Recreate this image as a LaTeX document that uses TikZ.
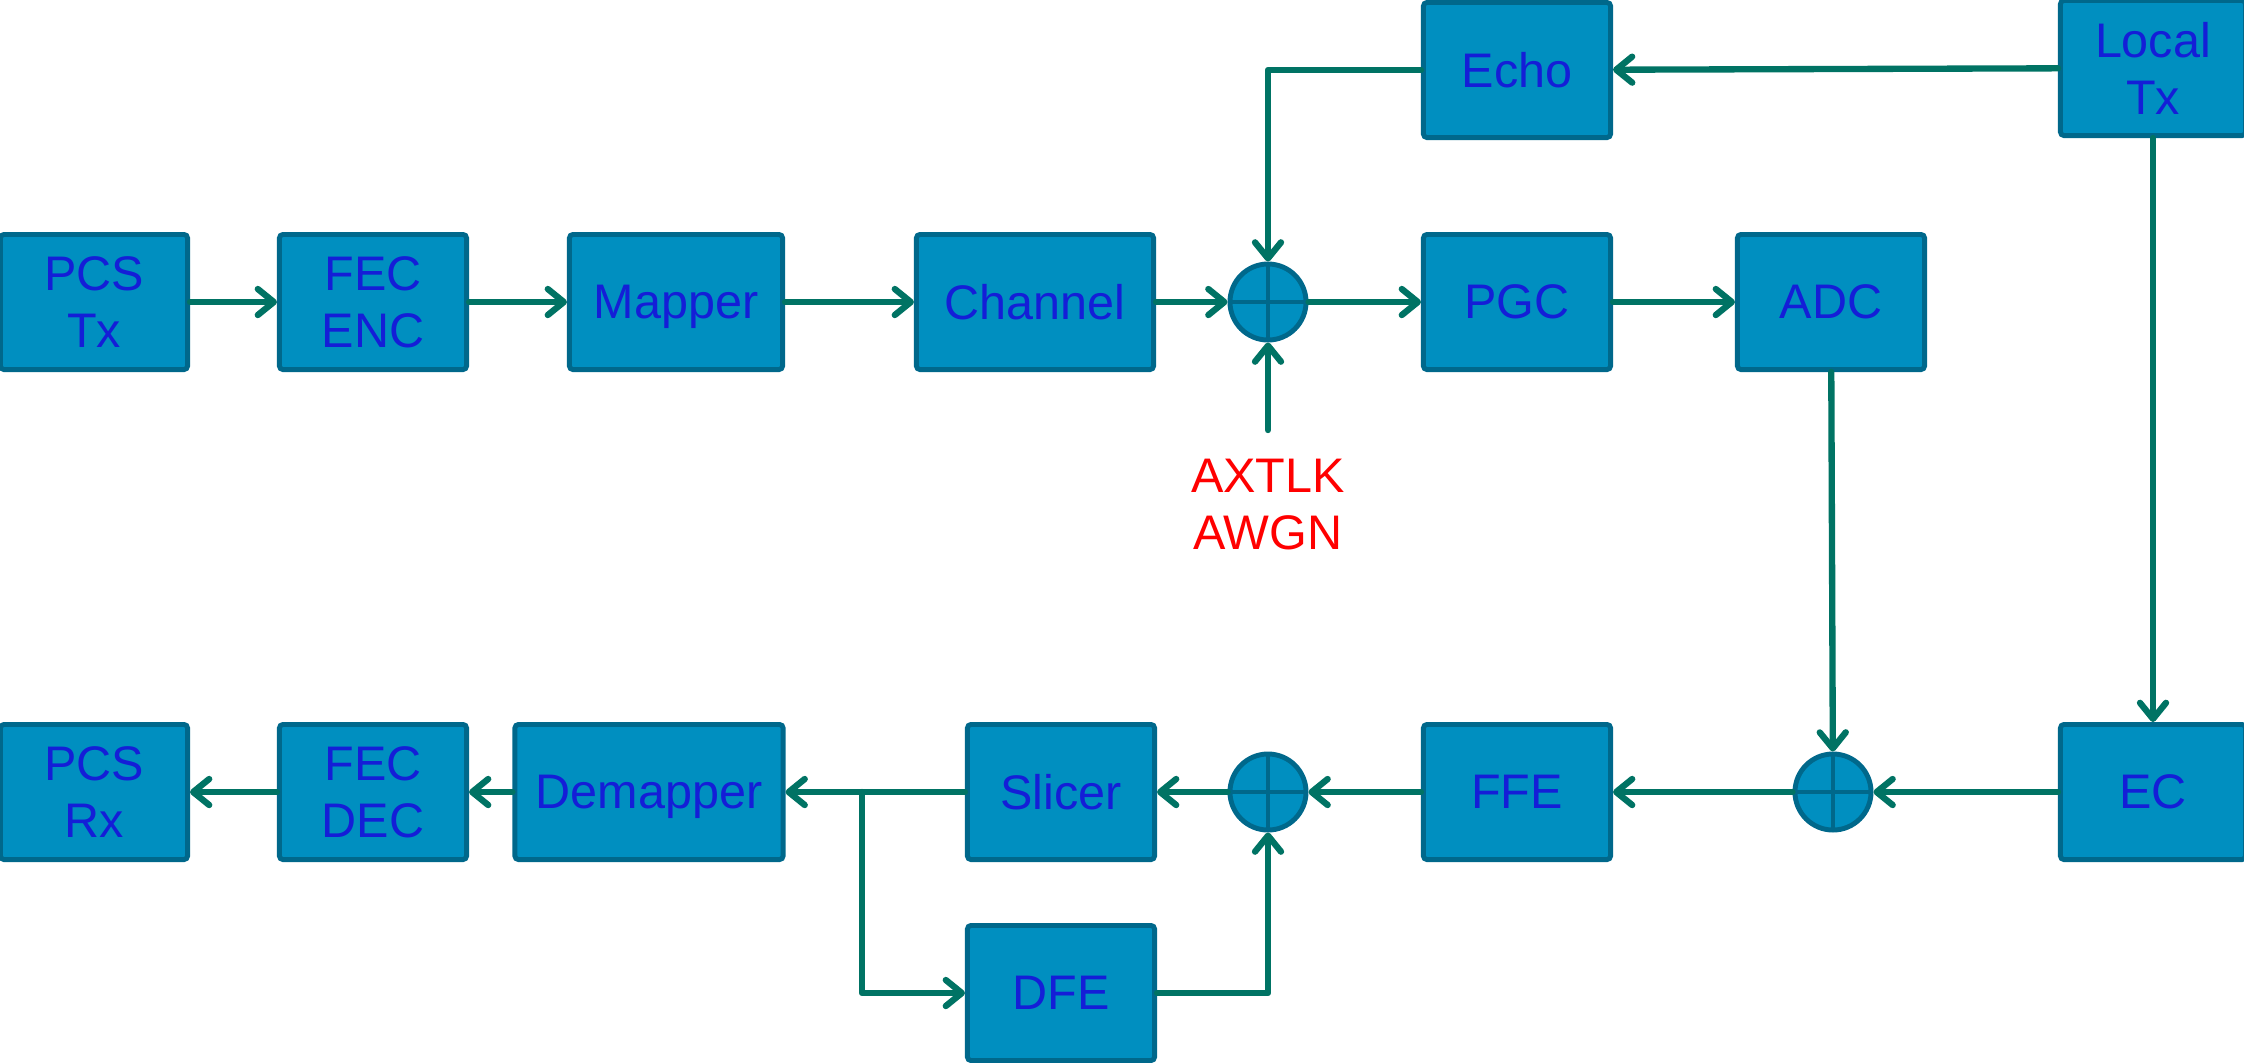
\documentclass[tikz,border=0pt]{standalone}
\usepackage{fontspec}
\setmainfont{Liberation Sans}
\usetikzlibrary{arrows.meta}

\definecolor{boxfill}{RGB}{0,143,192}
\definecolor{boxline}{RGB}{0,104,139}
\definecolor{wire}{RGB}{0,115,100}
\definecolor{labelblue}{RGB}{20,30,215}

\tikzset{
    block/.style = {draw=boxline, fill=boxfill, line width=1.4pt, rounded corners=1pt,
        minimum width=1.87cm, minimum height=1.35cm, inner sep=0pt, align=center,
        text depth=0pt, text=labelblue, font=\fontsize{13.8}{16.2}\selectfont},
    summer/.style = {circle, draw=boxline, fill=boxfill, line width=1.4pt,
        minimum size=0.76cm, inner sep=0pt,
        path picture={\draw[boxline, line width=1.4pt]
            (path picture bounding box.north) -- (path picture bounding box.south)
            (path picture bounding box.west) -- (path picture bounding box.east);}},
    conn/.style = {draw=wire, line width=1.8pt, line cap=round, line join=round,
        -{Straight Barb[length=0.16cm, width=0.26cm, round]}}
}

\begin{document}
\begin{tikzpicture}[x=0.01cm, y=-0.01cm]
    \useasboundingbox (0,0) rectangle (2244,1062);

    % transmit path
    \node[block] (pcstx) at (94,302) {PCS\\Tx};
    \node[block] (fecenc) at (373,302) {FEC\\ENC};
    \node[block, minimum width=2.13cm] (mapper) at (676,302) {Mapper};
    \node[block, minimum width=2.37cm] (channel) at (1035,302) {Channel};
    \node[summer] (sumrx) at (1268,302) {};
    \node[block] (pgc) at (1517,302) {PGC};
    \node[block] (adc) at (1831,302) {ADC};

    % echo path
    \node[block] (echo) at (1517,70) {Echo};
    \node[block, minimum width=1.85cm] (localtx) at (2153,68) {Local\\Tx};
    \node[block, minimum width=1.85cm] (ec) at (2153,792) {EC};

    % receive path
    \node[summer] (sumec) at (1833,792) {};
    \node[block] (ffe) at (1517,792) {FFE};
    \node[summer] (sumdfe) at (1268,792) {};
    \node[block] (slicer) at (1061,792) {Slicer};
    \node[block] (dfe) at (1061,993) {DFE};
    \node[block, minimum width=2.68cm] (demapper) at (649,792) {Demapper};
    \node[block] (fecdec) at (373,792) {FEC\\DEC};
    \node[block] (pcsrx) at (94,792) {PCS\\Rx};

    % noise input
    \coordinate (noise) at (1268,430);
    \node[align=center, text=red, font=\fontsize{13.8}{16.2}\selectfont] (noiselbl) at (1268,505) {AXTLK\\AWGN};
    \coordinate (branch) at (862,792);

    \draw[conn] (pcstx) -- (fecenc);
    \draw[conn] (fecenc) -- (mapper);
    \draw[conn] (mapper) -- (channel);
    \draw[conn] (channel) -- (sumrx);
    \draw[conn] (sumrx) -- (pgc);
    \draw[conn] (pgc) -- (adc);
    \draw[conn] (noise) -- (sumrx.south);
    \draw[conn] (localtx) -- (echo);
    \draw[conn] (echo.west) -| (sumrx.north);
    \draw[conn] (localtx) -- (ec);
    \draw[conn] (adc) -- (sumec);
    \draw[conn] (ec) -- (sumec);
    \draw[conn] (sumec) -- (ffe);
    \draw[conn] (ffe) -- (sumdfe);
    \draw[conn] (sumdfe) -- (slicer);
    \draw[conn] (slicer) -- (demapper);
    \draw[conn] (branch) |- (dfe.west);
    \draw[conn] (dfe.east) -| (sumdfe.south);
    \draw[conn] (demapper) -- (fecdec);
    \draw[conn] (fecdec) -- (pcsrx);
\end{tikzpicture}
\end{document}
